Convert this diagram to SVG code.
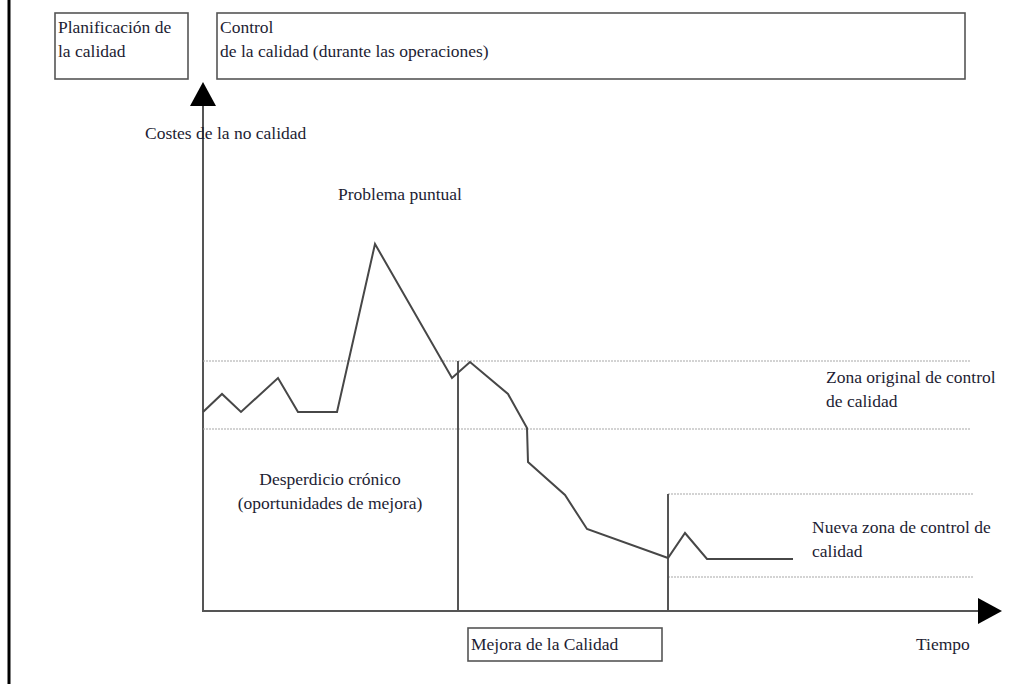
<svg xmlns="http://www.w3.org/2000/svg" width="1034" height="684" viewBox="0 0 1034 684">
  <style>
    .box { fill: #ffffff; stroke: #555555; stroke-width: 1.6; }
    .lbl { font-family: "Liberation Serif", "Times New Roman", serif; font-size: 17.5px; fill: #1d1d33; }
    .axis { stroke: #555555; stroke-width: 2; fill: none; }
    .curve { stroke: #474747; stroke-width: 2; fill: none; stroke-linejoin: miter; }
    .zone { stroke: #a8a8a8; stroke-width: 1.2; stroke-dasharray: 2 1; fill: none; }
    .mark { stroke: #555555; stroke-width: 2; fill: none; }
  </style>
  <defs>
    <marker id="arrowhead" viewBox="0 0 24 26" refX="0" refY="13" markerWidth="24" markerHeight="26" markerUnits="userSpaceOnUse" orient="auto">
      <path d="M0,0 L24,13 L0,26 Z" fill="#000000"/>
    </marker>
  </defs>
  <rect width="1034" height="684" fill="#ffffff"/>

  <!-- page border on the left -->
  <line x1="9" y1="0" x2="9" y2="684" stroke="#000000" stroke-width="3"/>

  <!-- phase boxes -->
  <g id="planificacion">
    <rect class="box" x="55" y="13" width="133" height="66"/>
    <text class="lbl" x="58" y="33">Planificación de</text>
    <text class="lbl" x="58" y="57">la calidad</text>
  </g>
  <g id="control">
    <rect class="box" x="217" y="13" width="748" height="66"/>
    <text class="lbl" x="220" y="33">Control</text>
    <text class="lbl" x="220" y="57">de la calidad (durante las operaciones)</text>
  </g>
  <g id="mejora">
    <rect class="box" x="468" y="628" width="194" height="33"/>
    <text class="lbl" x="471" y="650">Mejora de la Calidad</text>
  </g>

  <!-- axes and chart lines -->
  <g id="connectors">
    <line class="axis" x1="203" y1="612" x2="203" y2="106" marker-end="url(#arrowhead)"/>
    <line class="axis" x1="203" y1="611" x2="978" y2="611" marker-end="url(#arrowhead)"/>

    <!-- original control zone -->
    <line class="zone" x1="203" y1="361" x2="971" y2="361"/>
    <line class="zone" x1="203" y1="429" x2="971" y2="429"/>

    <!-- new control zone -->
    <line class="zone" x1="668" y1="494" x2="973" y2="494"/>
    <line class="zone" x1="668" y1="577" x2="973" y2="577"/>

    <!-- improvement markers -->
    <line class="mark" x1="458" y1="361" x2="458" y2="611"/>
    <line class="mark" x1="668" y1="494" x2="668" y2="611"/>

    <!-- cost of poor quality over time -->
    <polyline class="curve" points="203,412 222,394 241,412 278,378 298,412 337,412 375,244 452,378 470,362 508,394 527,428 528,462 565,495 587,529 668,558 685,533 707,559 793,559"/>
  </g>

  <!-- chart labels -->
  <g id="labels">
    <text class="lbl" x="145" y="139">Costes de la no calidad</text>
    <text class="lbl" x="338" y="200">Problema puntual</text>
    <text class="lbl" x="826" y="383">Zona original de control</text>
    <text class="lbl" x="826" y="407">de calidad</text>
    <text class="lbl" x="330" y="485" text-anchor="middle">Desperdicio crónico</text>
    <text class="lbl" x="330" y="509" text-anchor="middle">(oportunidades de mejora)</text>
    <text class="lbl" x="812" y="533">Nueva zona de control de</text>
    <text class="lbl" x="812" y="557">calidad</text>
    <text class="lbl" x="916" y="650">Tiempo</text>
  </g>
</svg>
